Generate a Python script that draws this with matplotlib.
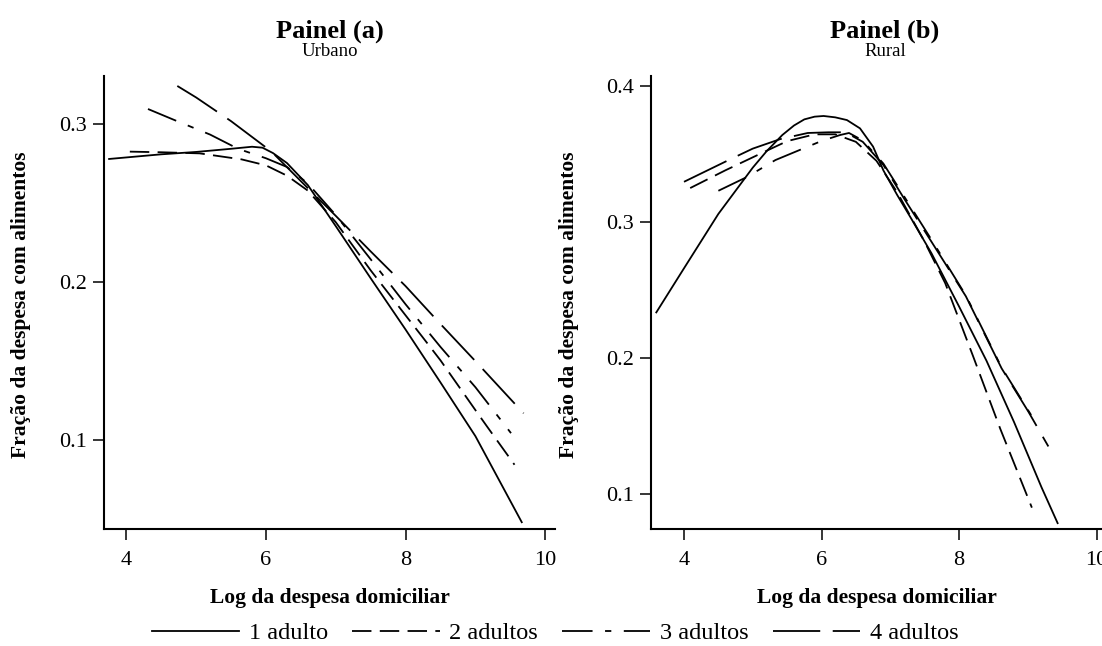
import numpy as np
import matplotlib
matplotlib.use('Agg')
import matplotlib.pyplot as plt
from matplotlib.lines import Line2D

plt.rcParams['font.family'] = ['Liberation Serif', 'DejaVu Serif']
plt.rcParams['lines.scale_dashes'] = False

## dados - painel (a) urbano
urb_x1 = [3.74, 4.5, 5.0, 5.5, 5.8, 5.95, 6.1, 6.3, 6.6, 7.0, 7.5, 8.0, 8.5, 9.0, 9.67]
urb_y1 = [0.278, 0.281, 0.2825, 0.2845, 0.2858, 0.2852, 0.2818, 0.2755, 0.2615, 0.2355, 0.2025, 0.170, 0.1365, 0.1025, 0.0475]
urb_x2 = [4.05, 4.5, 5.05, 5.65, 6.0, 6.3, 6.6, 7.0, 7.5, 8.0, 8.24, 8.5, 9.0, 9.17, 9.56]
urb_y2 = [0.2827, 0.2823, 0.2816, 0.2778, 0.274, 0.2675, 0.258, 0.238, 0.2075, 0.179, 0.1654, 0.1505, 0.119, 0.1084, 0.0844]
urb_x3 = [4.31, 4.7, 5.2, 5.6, 6.0, 6.3, 6.6, 7.0, 7.5, 8.0, 8.5, 9.0, 9.51]
urb_y3 = [0.3097, 0.3025, 0.2935, 0.2845, 0.2785, 0.273, 0.2625, 0.2425, 0.2145, 0.186, 0.159, 0.1335, 0.1044]
urb_x4 = [4.73, 5.0, 5.5, 6.08, 6.5, 7.0, 7.5, 8.0, 8.5, 9.0, 9.69]
urb_y4 = [0.3243, 0.317, 0.302, 0.2827, 0.264, 0.242, 0.2195, 0.1975, 0.1735, 0.150, 0.117]

## painel (b) rural
rur_x1 = [3.59, 4.0, 4.5, 5.0, 5.2, 5.43, 5.6, 5.75, 5.9, 6.03, 6.2, 6.37, 6.56, 6.75, 6.9, 7.1, 7.3, 7.6, 8.0, 8.4, 8.8, 9.2, 9.44]
rur_y1 = [0.233, 0.266, 0.306, 0.340, 0.352, 0.364, 0.371, 0.3755, 0.3775, 0.378, 0.377, 0.375, 0.3689, 0.3555, 0.338, 0.320, 0.303, 0.277, 0.238, 0.198, 0.153, 0.105, 0.078]
rur_x2 = [4.09, 4.6, 5.1, 5.5, 5.9, 6.2, 6.5, 6.8, 7.1, 7.5, 7.8, 8.2, 8.6, 9.06]
rur_y2 = [0.325, 0.338, 0.350, 0.3595, 0.3645, 0.3645, 0.359, 0.345, 0.322, 0.2855, 0.255, 0.202, 0.148, 0.090]
rur_x3 = [4.50, 4.91, 5.33, 5.74, 6.0, 6.27, 6.4, 6.6, 6.9, 7.2, 7.6, 8.1, 8.62, 9.05]
rur_y3 = [0.323, 0.333, 0.3456, 0.3542, 0.3596, 0.364, 0.3655, 0.360, 0.343, 0.319, 0.287, 0.246, 0.193, 0.158]
rur_x4 = [4.0, 4.65, 5.0, 5.4, 5.8, 6.1, 6.35, 6.6, 6.9, 7.2, 7.6, 8.1, 8.62, 9.01, 9.3]
rur_y4 = [0.3296, 0.3456, 0.354, 0.361, 0.3655, 0.366, 0.366, 0.359, 0.342, 0.3174, 0.2855, 0.2454, 0.1924, 0.1605, 0.135]

rotulos = ['1 adulto', '2 adultos', '3 adultos', '4 adultos']
tracos = [None, (0, (14, 6)), (0, (22, 9, 4.5, 9)), (0, (34, 9))]

lw = 1.3

fig = plt.figure(figsize=(11.02, 6.46), dpi=100)
axA = fig.add_axes([104/1102, 1-529/646, 451/1102, 453/646])
axB = fig.add_axes([651/1102, 1-529/646, 451/1102, 453/646])

def desenha(ax, series):
    for (xs, ys), ls in zip(series, tracos):
        if ls is None:
            ax.plot(xs, ys, color='black', lw=lw, solid_capstyle='butt')
        else:
            ax.plot(xs, ys, color='black', lw=lw, linestyle=ls, dash_capstyle='butt')
    for s in ['top', 'right']:
        ax.spines[s].set_visible(False)
    for s in ['left', 'bottom']:
        ax.spines[s].set_linewidth(1.5)
    ax.tick_params(direction='out', length=8, width=1.1, labelsize=16, pad=4)
    ax.tick_params(axis='x', pad=8)
    ax.set_xticks([4, 6, 8, 10])

desenha(axA, [(urb_x1, urb_y1), (urb_x2, urb_y2), (urb_x3, urb_y3), (urb_x4, urb_y4)])
axA.set_xlim(3.68, 10.14)
axA.set_ylim(0.0437, 0.3306)
axA.set_yticks([0.1, 0.2, 0.3])

desenha(axB, [(rur_x1, rur_y1), (rur_x2, rur_y2), (rur_x3, rur_y3), (rur_x4, rur_y4)])
axB.set_xlim(3.52, 10.08)
axB.set_ylim(0.0743, 0.4074)
axB.set_yticks([0.1, 0.2, 0.3, 0.4])

## titulos e rotulos
fig.text(330/1102, 1-31/646, 'Painel (a)', ha='center', va='center', fontsize=19, fontweight='bold')
fig.text(330/1102, 1-52/646, 'Urbano', ha='center', va='center', fontsize=13.5)
fig.text(885/1102, 1-31/646, 'Painel (b)', ha='center', va='center', fontsize=19, fontweight='bold')
fig.text(885/1102, 1-52/646, 'Rural', ha='center', va='center', fontsize=13.5)

for xc in [330, 877]:
    fig.text(xc/1102, 1-598/646, 'Log da despesa domiciliar', ha='center', va='center', fontsize=15.5, fontweight='bold')
for xc in [21, 569]:
    fig.text(xc/1102, 1-305/646, 'Fração da despesa com alimentos', ha='center', va='center',
             rotation=90, fontsize=15.5, fontweight='bold')

## legenda
handles = []
for ls in tracos:
    if ls is None:
        handles.append(Line2D([], [], color='black', lw=lw))
    else:
        handles.append(Line2D([], [], color='black', lw=lw, linestyle=ls))
fig.legend(handles, rotulos, loc='center', bbox_to_anchor=(555/1102, 1-633/646), ncol=4, frameon=False,
           fontsize=17.5, handlelength=3.6, handletextpad=0.4, columnspacing=1.0, borderpad=0, borderaxespad=0)

fig.savefig('out.png', dpi=100)
